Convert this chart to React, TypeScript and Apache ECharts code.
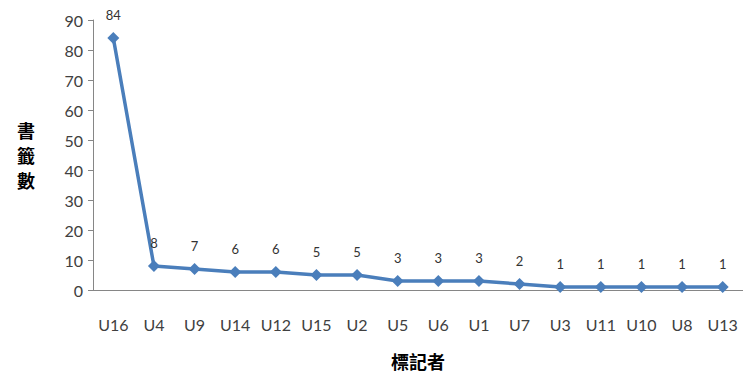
import React, { useEffect, useRef } from "react";
import * as echarts from "echarts";

const categories = ["U16", "U4", "U9", "U14", "U12", "U15", "U2", "U5", "U6", "U1", "U7", "U3", "U11", "U10", "U8", "U13"];
const bookmarkCounts = [84, 8, 7, 6, 6, 5, 5, 3, 3, 3, 2, 1, 1, 1, 1, 1];
const xAxisName = "標記者";
const yAxisName = "書\n籤\n數";

export default function App() {
  const ref = useRef<HTMLDivElement>(null);
  useEffect(() => {
    if (!ref.current) return;
    const chart = echarts.init(ref.current, undefined, { renderer: "svg" });
    const latin = "Lato, 'Open Sans', sans-serif";
    const cjk = "'Noto Sans CJK TC', 'Noto Sans CJK SC', sans-serif";
    chart.setOption({
      animation: false,
      backgroundColor: "#ffffff",
      grid: { left: 93, right: 0, top: 20, bottom: 86, containLabel: false, outerBoundsMode: "none" },
      xAxis: {
        type: "category",
        data: categories,
        boundaryGap: true,
        name: xAxisName,
        nameLocation: "middle",
        nameGap: 62,
        nameTextStyle: { fontFamily: cjk, fontWeight: "bold", fontSize: 18, color: "#000" },
        axisLine: { lineStyle: { color: "#868686", width: 1 } },
        axisTick: { show: false },
        axisLabel: { fontFamily: latin, fontSize: 16, color: "#404040", margin: 26, interval: 0 },
        splitLine: { show: false },
      },
      yAxis: {
        type: "value",
        min: 0,
        max: 90,
        interval: 10,
        name: yAxisName,
        nameLocation: "middle",
        nameRotate: 0,
        nameGap: 58,
        nameTextStyle: { fontFamily: cjk, fontWeight: "bold", fontSize: 18, lineHeight: 25, color: "#000" },
        axisLine: { show: true, lineStyle: { color: "#868686", width: 1 } },
        axisTick: { show: true, length: 5, lineStyle: { color: "#868686" } },
        axisLabel: { fontFamily: latin, fontSize: 16, color: "#404040", margin: 10 },
        splitLine: { show: false },
      },
      series: [
        {
          type: "line",
          data: bookmarkCounts,
          symbol: "diamond",
          symbolSize: 12,
          lineStyle: { color: "#4A7EBB", width: 3.5 },
          itemStyle: { color: "#4A7EBB" },
          label: {
            show: true,
            position: "top",
            distance: 11,
            fontFamily: latin,
            fontSize: 13,
            color: "#333",
          },
        },
      ],
    });
    return () => chart.dispose();
  }, []);
  return <div ref={ref} style={{ width: 743, height: 376, position: "absolute", left: 0, top: 0 }} />;
}
